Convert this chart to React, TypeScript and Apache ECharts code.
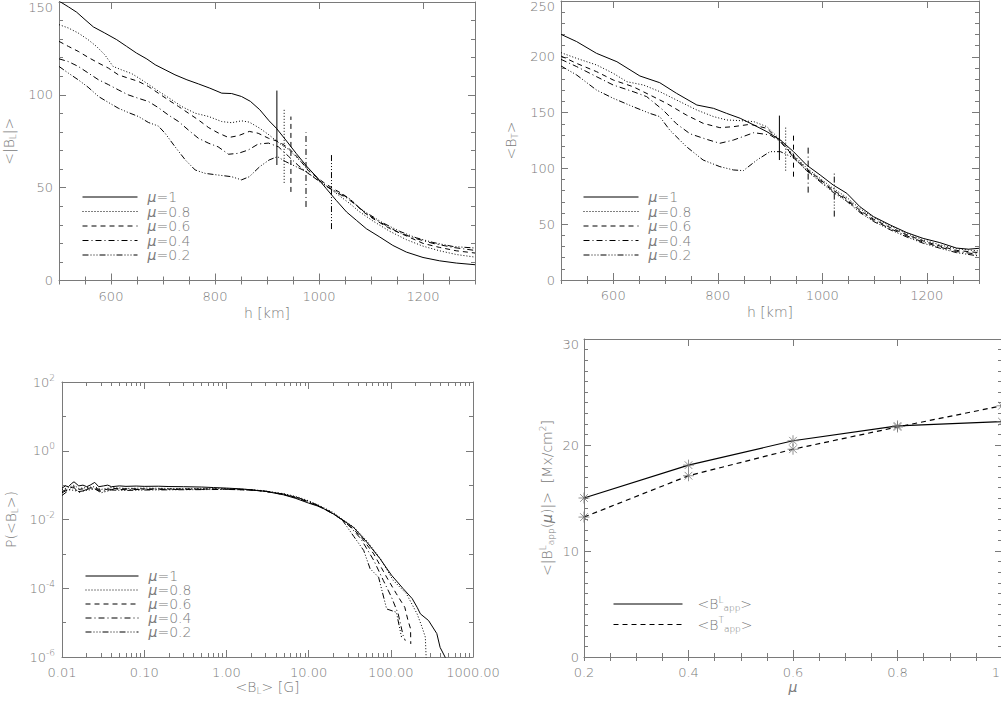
import React, { useEffect, useRef } from "react";
import * as echarts from "echarts";

// ---- panel 1: <|B_L|> against h [km]
const blMu1 = [[500,150.5],[518,147.4],[534,144.5],[550,140.5],[566,136.6],[588,133.3],[611,129.7],[630,126.1],[649,122.5],[669,119.3],[685,116.2],[704,113.5],[723,110.8],[746,108.1],[768,105.9],[790,103.6],[813,100.9],[832,100.7],[851,99.1],[868,96.5],[886,92],[904,86],[918,82],[936,75.7],[956,68.5],[976,61.6],[995,55.9],[1014,49.5],[1033,43.2],[1053,36.9],[1072,32.4],[1091,27.9],[1117,23.4],[1142,18.9],[1168,15.3],[1200,12.4],[1232,10.6],[1264,9.4],[1300,8.5]];
const blMu08 = [[500,137.8],[518,136],[537,133.3],[556,129.7],[572,126.1],[588,121.6],[604,115.3],[620,113.5],[640,111.4],[659,108.1],[678,104.5],[697,100.9],[717,97.3],[736,93.7],[762,90.1],[788,88.3],[813,85.6],[832,85],[851,86],[866,85.3],[886,82],[904,78.4],[924,73.9],[943,70.3],[962,64.9],[982,59.5],[1001,54],[1021,49.5],[1040,45.5],[1059,41.5],[1078,37],[1104,32],[1136,26.5],[1168,22],[1200,18.5],[1232,16],[1264,14],[1300,12.6]];
const blMu06 = [[500,128.8],[518,126.1],[537,123.4],[556,120.2],[576,117.1],[595,114.4],[614,110.8],[633,109],[653,107.2],[672,104.5],[691,100.9],[710,97.3],[730,93.7],[749,90.1],[768,86.5],[788,82.3],[806,79.5],[826,77],[845,78],[866,80.3],[883,79.3],[903,76.6],[922,74.8],[941,71.5],[960,66],[980,59],[1008,53],[1027,49.5],[1046,46.5],[1065,42.5],[1085,37],[1104,33.3],[1136,28],[1168,24],[1200,20],[1232,17.8],[1264,16],[1300,14.8]];
const blMu04 = [[500,119.4],[518,117.9],[537,115.3],[556,111.8],[576,108.1],[595,105.5],[614,102.7],[633,100],[653,98.1],[672,96.4],[691,93.1],[710,89.2],[730,85.6],[749,81],[768,76.6],[788,73.9],[806,72],[826,68],[845,68.5],[864,70.3],[883,73.5],[903,74],[922,72],[941,67],[960,62],[980,57.5],[995,55],[1014,51],[1033,47.5],[1053,44.5],[1072,40.5],[1091,36],[1117,31.5],[1149,26.5],[1181,23],[1219,20],[1258,17.8],[1300,16.2]];
const blMu02 = [[500,115.3],[518,111.7],[537,108.1],[556,104.1],[576,99.1],[595,95.9],[614,92.8],[633,90.5],[653,88.3],[672,85.1],[691,83.2],[704,79.3],[723,72.1],[743,64.9],[762,59.5],[781,57.7],[806,56.8],[832,55.9],[851,54.2],[866,55.9],[886,61.3],[904,64.9],[920,66.7],[936,64],[956,61.3],[976,58.6],[1001,53.2],[1021,49.5],[1040,47],[1059,44],[1078,39],[1097,35.5],[1123,31],[1155,26.5],[1187,23],[1219,20.5],[1258,18.3],[1300,17.5]];
const blBarH = [919, 933, 946, 975, 1024];
const blBarLo = [62.2, 52.6, 47.7, 39.6, 27.7];
const blBarHi = [102.3, 92, 88.3, 79.8, 68.5];

// ---- panel 2: <B_T> against h [km]
const btMu1 = [[500,220.1],[530,213.6],[568,203.1],[607,195.6],[651,182.8],[689,176.8],[721,167.3],[760,156.8],[792,153.8],[817,149.3],[843,144.9],[869,138.9],[894,132.9],[920,125.4],[945,115],[970,103],[996,94.1],[1021,85.1],[1047,77.7],[1072,65.7],[1098,56.8],[1130,49.3],[1162,42.4],[1193,37.3],[1225,33.5],[1257,28.6],[1280,27.6],[1300,28.4]];
const btMu08 = [[500,203.7],[530,198.6],[568,192.7],[600,185.2],[626,177.7],[658,174.7],[689,168.8],[721,161.3],[760,152.3],[792,146.4],[817,143.4],[843,142.8],[869,141.9],[894,137.4],[920,125.4],[945,112],[970,100.5],[996,91],[1021,82],[1047,74],[1072,64],[1098,56],[1130,48.5],[1162,41.5],[1193,36],[1225,31.5],[1257,28],[1300,26]];
const btMu06 = [[500,200.7],[530,194.1],[568,186.7],[600,179.2],[638,173.2],[670,165.8],[702,158.3],[740,147.8],[772,140.4],[804,136.5],[830,137.4],[862,139.5],[894,135.9],[920,124],[945,111],[970,99.5],[996,90],[1021,80.5],[1047,72.5],[1072,62.5],[1098,54.5],[1130,47],[1162,40.5],[1193,35],[1225,30.5],[1257,26.5],[1300,24.5]];
const btMu04 = [[500,197.7],[530,191.2],[568,182.2],[600,174.7],[638,168.8],[664,164.3],[696,152],[721,140],[747,131],[779,126],[804,122.5],[830,125.4],[869,132],[900,130],[920,124],[945,110],[970,98.5],[996,89],[1021,79.5],[1047,71.5],[1072,61.5],[1098,53.5],[1130,46],[1162,39.5],[1193,34],[1225,29.5],[1257,25.5],[1300,23]];
const btMu02 = [[500,191.8],[530,183.7],[568,170.2],[600,162.8],[638,155.3],[670,149.3],[689,146.4],[708,134.4],[740,119.5],[772,107.5],[804,101.6],[830,98.6],[849,98],[875,107.5],[900,115],[920,115],[945,109.5],[970,98],[996,88],[1021,78.5],[1047,70.5],[1072,60.5],[1098,52.5],[1130,45],[1162,38.5],[1193,33],[1225,28.5],[1257,24.5],[1300,21.5]];
const btBarH = [918, 930, 945, 973, 1023];
const btBarLo = [107.5, 98, 92.6, 78.3, 56.8];
const btBarHi = [147.3, 137.4, 132.3, 118.6, 97];

// ---- panel 3: P(<B_L>) against <B_L> [G]
const pMu1 = [[0.01,0.082],[0.011,0.095],[0.012,0.09],[0.013,0.11],[0.014,0.125],[0.016,0.095],[0.018,0.1],[0.02,0.09],[0.022,0.1],[0.025,0.12],[0.028,0.09],[0.032,0.095],[0.036,0.1],[0.04,0.09],[0.05,0.095],[0.06,0.092],[0.08,0.094],[0.1,0.092],[0.15,0.093],[0.2,0.091],[0.3,0.09],[0.5,0.088],[0.7,0.085],[1,0.082],[1.5,0.078],[2,0.073],[3,0.066],[5,0.052],[7,0.041],[10,0.03],[13.8,0.0234],[20,0.0145],[26.3,0.0095],[35.5,0.0058],[51,0.0022],[74,0.00072],[102,0.00024],[141,0.000098],[182,0.00005],[209,0.000028],[229,0.000018],[288,0.0000115],[363,0.0000048],[398,0.0000019],[480,0.0000008]];
const pMu08 = [[0.01,0.075],[0.012,0.085],[0.014,0.1],[0.016,0.08],[0.02,0.085],[0.025,0.09],[0.03,0.075],[0.04,0.085],[0.06,0.08],[0.1,0.082],[0.2,0.08],[0.5,0.08],[1,0.079],[2,0.074],[3,0.068],[5,0.056],[7,0.047],[10,0.035],[13.8,0.025],[20,0.016],[26.3,0.0098],[35.5,0.006],[51,0.0024],[74,0.00075],[107,0.00017],[155,0.000069],[209,0.000018],[240,0.0000074],[263,0.0000038],[270,0.0000008]];
const pMu06 = [[0.01,0.065],[0.012,0.08],[0.014,0.09],[0.016,0.075],[0.02,0.08],[0.025,0.085],[0.03,0.07],[0.04,0.08],[0.06,0.078],[0.1,0.078],[0.2,0.077],[0.5,0.077],[1,0.077],[2,0.072],[3,0.066],[5,0.053],[7,0.043],[10,0.032],[13.8,0.023],[20,0.0148],[26,0.0097],[35,0.0052],[43,0.0032],[62,0.001],[89,0.00021],[117,0.000069],[148,0.000028],[162,0.0000115],[174,0.0000066],[175,0.0000024]];
const pMu04 = [[0.01,0.05],[0.012,0.07],[0.014,0.085],[0.016,0.06],[0.02,0.075],[0.025,0.08],[0.03,0.065],[0.04,0.075],[0.06,0.074],[0.1,0.075],[0.2,0.075],[0.5,0.075],[1,0.076],[2,0.072],[3,0.066],[5,0.054],[7,0.044],[10,0.033],[13.8,0.024],[20,0.0148],[26,0.0095],[32,0.0062],[43,0.0028],[62,0.00065],[81,0.00017],[102,0.000055],[123,0.000018],[141,0.0000043],[150,0.000003]];
const pMu02 = [[0.01,0.06],[0.012,0.075],[0.014,0.07],[0.016,0.065],[0.02,0.07],[0.025,0.078],[0.03,0.06],[0.04,0.072],[0.06,0.07],[0.1,0.072],[0.2,0.073],[0.5,0.074],[1,0.075],[2,0.072],[3,0.066],[5,0.055],[7,0.045],[10,0.034],[13.8,0.024],[20,0.0145],[26,0.0093],[35.5,0.0032],[46.8,0.00126],[56,0.00037],[71,0.00021],[89,0.000025],[117,0.00002],[135,0.0000038]];

// ---- panel 4: <|B_app(mu)|> against mu
const muValues = [0.2, 0.4, 0.6, 0.8, 1.0];
const bLapp = [15.0, 18.1, 20.4, 21.8, 22.2];
const bTapp = [13.2, 17.1, 19.6, 21.7, 23.7];

const muNames = ["μ=1", "μ=0.8", "μ=0.6", "μ=0.4", "μ=0.2"];
const appNames = ["BL_app", "BT_app"];

const GRAY = "#7a7a7a";
const FONT = "DejaVu Sans, sans-serif";
const DASHES: any[] = ["solid", [1, 2], [5, 4], [6, 3, 1, 3], [6, 2, 1, 2, 1, 2, 1, 2]];
const txt = { color: GRAY, fontFamily: FONT, fontSize: 13, fontWeight: 200 };
const RICH = {
  sub: { ...txt, fontSize: 9, padding: [8, 0, 0, 0] },
  sup: { ...txt, fontSize: 9, padding: [0, 0, 9, 0] },
  i: { ...txt, fontSize: 14, lineHeight: 14, fontStyle: "italic" },
  tp: { ...txt, padding: [10, 0, 0, 0] },
};
const ASTERISK = "path://M0,-10L0,10M-10,0L10,0M-7,-7L7,7M-7,7L7,-7";

const range = (a: number, b: number, step: number) => {
  const out: number[] = [];
  for (let k = 0; a + k * step <= b + 1e-9; k++) out.push(+(a + k * step).toFixed(6));
  return out;
};
const logMinor = (lo: number, hi: number) => {
  const out: number[] = [];
  for (let e = lo; e < hi; e++) for (let m = 2; m <= 9; m++) out.push(+(m * Math.pow(10, e)).toPrecision(6));
  return out;
};

// labelled major + minor ticks on one side, mirrored on the opposite side
function makeAxes(dim: "x" | "y", g: number, c: any) {
  const sides = dim === "x" ? ["bottom", "top"] : ["left", "right"];
  const base: any = { gridIndex: g, type: c.type || "value", min: c.min, max: c.max, splitLine: { show: false }, silent: true };
  if (c.type === "log") base.logBase = 10;
  const tick = (len: number, vals: number[]) => ({ show: true, inside: true, length: len, customValues: vals, lineStyle: { color: GRAY, width: 1 } });
  const out: any[] = [];
  sides.forEach((pos, s) => {
    const main: any = {
      ...base, position: pos,
      axisLine: { show: true, onZero: false, lineStyle: { color: GRAY, width: 1 } },
      axisTick: tick(7, c.major),
      axisLabel: { show: false },
    };
    if (s === 0) {
      main.axisLabel = { show: true, customValues: c.labels, formatter: c.fmt, margin: c.margin, ...txt, rich: RICH };
      main.name = c.name;
      main.nameLocation = "middle";
      main.nameGap = c.nameGap;
      main.nameTextStyle = { ...txt, fontSize: 14, rich: RICH };
    }
    out.push(main);
    out.push({ ...base, position: pos, axisLine: { show: false }, axisTick: tick(4, c.minor), axisLabel: { show: false } });
  });
  return out;
}

const lineSeries = (name: string, data: number[][], g: number, k: number) => ({
  type: "line", name, data, xAxisIndex: 4 * g, yAxisIndex: 4 * g, symbol: "none", color: "#000",
  lineStyle: { color: "#000", width: 1, type: DASHES[k] }, clip: true, silent: true,
});

function buildOption() {
  const bl = [blMu1, blMu08, blMu06, blMu04, blMu02];
  const bt = [btMu1, btMu08, btMu06, btMu04, btMu02];
  const pp = [pMu1, pMu08, pMu06, pMu04, pMu02];
  const series: any[] = [];
  muNames.forEach((n, k) => {
    series.push(lineSeries(n, bl[k], 0, k));
    series.push(lineSeries(n + " range", [[blBarH[k], blBarLo[k]], [blBarH[k], blBarHi[k]]], 0, k));
    series.push(lineSeries(n, bt[k], 1, k));
    series.push(lineSeries(n + " range", [[btBarH[k], btBarLo[k]], [btBarH[k], btBarHi[k]]], 1, k));
    series.push(lineSeries(n, pp[k], 2, k));
  });
  [bLapp, bTapp].forEach((vals, k) => {
    const s: any = lineSeries(appNames[k], muValues.map((m, i) => [m, vals[i]]), 3, k === 0 ? 0 : 2);
    s.lineStyle.width = 1.2;
    s.clip = false;
    series.push(s);
    series.push({
      type: "scatter", name: appNames[k] + " points", data: muValues.map((m, i) => [m, vals[i]]),
      xAxisIndex: 12, yAxisIndex: 12, symbol: ASTERISK, symbolSize: 11, silent: true,
      itemStyle: { color: "none", borderColor: "#777", borderWidth: 1 }, z: 4,
    });
  });

  const hFmt = (v: number) => String(v);
  const topX = { min: 500, max: 1300, major: [600, 800, 1000, 1200], minor: range(500, 1300, 50), labels: [600, 800, 1000, 1200], fmt: hFmt, margin: 9, name: "h [km]", nameGap: 25 };

  const xAxis = [
    ...makeAxes("x", 0, topX),
    ...makeAxes("x", 1, topX),
    ...makeAxes("x", 2, {
      type: "log", min: 0.01, max: 1000, major: [0.01, 0.1, 1, 10, 100, 1000], minor: logMinor(-2, 3),
      labels: [0.01, 0.1, 1, 10, 100, 1000], fmt: (v: number) => v.toFixed(2), margin: 9,
      name: "<B{sub|L}> [G]", nameGap: 21,
    }),
    ...makeAxes("x", 3, {
      min: 0.2, max: 1.0, major: [0.2, 0.4, 0.6, 0.8, 1.0], minor: range(0.2, 1.0, 0.05),
      labels: [0.2, 0.4, 0.6, 0.8, 1.0], fmt: (v: number) => v.toFixed(1), margin: 9,
      name: "{i|μ}", nameGap: 22,
    }),
  ];
  const yAxis = [
    ...makeAxes("y", 0, {
      min: 0, max: 150, major: [0, 50, 100, 150], minor: range(0, 150, 10), labels: [0, 50, 100, 150],
      fmt: (v: number) => (v === 150 ? "{tp|150}" : String(v)), margin: 6, name: "<|B{sub|L}|>", nameGap: 42,
    }),
    ...makeAxes("y", 1, {
      min: 0, max: 250, major: [0, 50, 100, 150, 200, 250], minor: range(0, 250, 10), labels: [0, 50, 100, 150, 200, 250],
      fmt: (v: number) => (v === 250 ? "{tp|250}" : String(v)), margin: 6, name: "<B{sub|T}>", nameGap: 42,
    }),
    ...makeAxes("y", 2, {
      type: "log", min: 1e-6, max: 100, major: [1e-6, 1e-4, 1e-2, 1, 100], minor: [1e-5, 1e-3, 0.1, 10],
      labels: [1e-6, 1e-4, 1e-2, 1, 100], fmt: (v: number) => `10{sup|${Math.round(Math.log10(v))}}`, margin: 7,
      name: "P(<B{sub|L}>)", nameGap: 43,
    }),
    ...makeAxes("y", 3, {
      min: 0, max: 30, major: [0, 10, 20, 30], minor: range(0, 30, 1), labels: [0, 10, 20, 30],
      fmt: (v: number) => (v === 30 ? "{tp|30}" : String(v)), margin: 5,
      name: "<|B{sup|L}{sub|app}({i|μ})|>  [Mx/cm{sup|2}]", nameGap: 28,
    }),
  ];

  const legendBase: any = {
    orient: "vertical", itemWidth: 55, itemHeight: 10, itemGap: 0.5, padding: 0, selectedMode: false,
    textStyle: { ...txt, fontSize: 14, lineHeight: 14, padding: [0, 0, 0, 5], rich: RICH },
    itemStyle: { opacity: 0 },
    lineStyle: { width: 1 },
  };
  const muFmt = (n: string) => n.replace("μ", "{i|μ}");

  return {
    animation: false,
    backgroundColor: "#fff",
    textStyle: { fontFamily: FONT },
    grid: [
      { left: 59, top: 2, width: 416, height: 278.5, outerBoundsMode: "none" },
      { left: 561, top: 1, width: 418, height: 279, outerBoundsMode: "none" },
      { left: 62, top: 382, width: 411, height: 275, outerBoundsMode: "none" },
      { left: 584, top: 339, width: 418, height: 318, outerBoundsMode: "none" },
    ],
    xAxis,
    yAxis,
    legend: [
      { ...legendBase, left: 82, top: 190, data: muNames, formatter: muFmt },
      { ...legendBase, left: 583, top: 190, data: muNames, formatter: muFmt },
      { ...legendBase, left: 85, top: 569, itemWidth: 53, itemGap: 0, data: muNames, formatter: muFmt },
      {
        ...legendBase, left: 613, top: 595, itemWidth: 69, itemGap: 3, data: appNames,
        textStyle: { ...legendBase.textStyle, padding: [0, 0, 0, 10] },
        formatter: (n: string) => (n === "BL_app" ? "<B{sup|L}{sub|app}>" : "<B{sup|T}{sub|app}>"),
      },
    ],
    series,
  };
}

export default function App() {
  const chartRef = useRef<HTMLDivElement>(null);
  useEffect(() => {
    const chart = echarts.init(chartRef.current as HTMLDivElement, null, { renderer: "svg" });
    chart.setOption(buildOption() as any);
    return () => {
      chart.dispose();
    };
  }, []);
  return (
    <div
      ref={chartRef}
      style={{ position: "fixed", left: 0, top: 0, width: 1001, height: 702, background: "#fff" }}
    />
  );
}
